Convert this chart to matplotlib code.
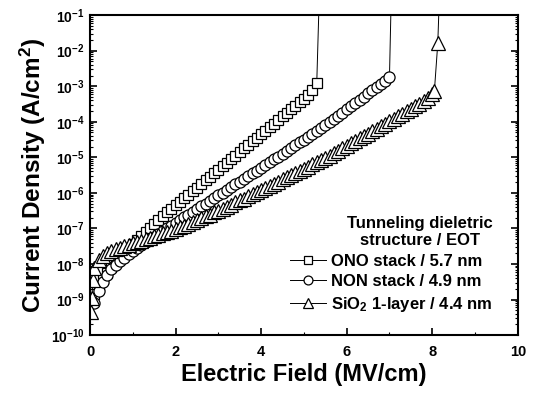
import numpy as np
import matplotlib
matplotlib.use('Agg')
import matplotlib.pyplot as plt
from matplotlib.ticker import LogLocator, FixedLocator, NullFormatter

plt.rcParams['font.family'] = ['Liberation Sans', 'DejaVu Sans']
plt.rcParams['font.weight'] = 'bold'
plt.rcParams['mathtext.fontset'] = 'custom'
plt.rcParams['mathtext.bf'] = 'Liberation Sans:bold'
plt.rcParams['mathtext.rm'] = 'Liberation Sans:bold'
plt.rcParams['mathtext.default'] = 'bf'

# ONO stack / 5.7 nm  (E in MV/cm, log10 J in A/cm^2)
ono_E = [0.1, 0.2, 0.3, 0.4, 0.5, 0.6, 0.7, 0.8, 0.9, 1.0,
         1.1, 1.2, 1.3, 1.4, 1.5, 1.6, 1.7, 1.8, 1.9, 2.0,
         2.1, 2.2, 2.3, 2.4, 2.5, 2.6, 2.7, 2.8, 2.9, 3.0,
         3.1, 3.2, 3.3, 3.4, 3.5, 3.6, 3.7, 3.8, 3.9, 4.0,
         4.1, 4.2, 4.3, 4.4, 4.5, 4.6, 4.7, 4.8, 4.9, 5.0,
         5.1, 5.2, 5.3, 5.37]
ono_logJ = [-8.85, -8.62, -8.42, -8.24, -8.08, -7.94, -7.81, -7.68, -7.56, -7.44,
            -7.32, -7.20, -7.09, -6.98, -6.87, -6.76, -6.66, -6.55, -6.45, -6.35,
            -6.25, -6.15, -6.05, -5.95, -5.85, -5.75, -5.65, -5.55, -5.45, -5.35,
            -5.25, -5.15, -5.05, -4.95, -4.85, -4.75, -4.65, -4.55, -4.45, -4.35,
            -4.25, -4.15, -4.05, -3.95, -3.85, -3.75, -3.65, -3.55, -3.45, -3.35,
            -3.24, -3.12, -2.92, 0.0]

# NON stack / 4.9 nm
non_E = [0.1, 0.2, 0.3, 0.4, 0.5, 0.6, 0.7, 0.8, 0.9, 1.0,
         1.1, 1.2, 1.3, 1.4, 1.5, 1.6, 1.7, 1.8, 1.9, 2.0,
         2.1, 2.2, 2.3, 2.4, 2.5, 2.6, 2.7, 2.8, 2.9, 3.0,
         3.1, 3.2, 3.3, 3.4, 3.5, 3.6, 3.7, 3.8, 3.9, 4.0,
         4.1, 4.2, 4.3, 4.4, 4.5, 4.6, 4.7, 4.8, 4.9, 5.0,
         5.1, 5.2, 5.3, 5.4, 5.5, 5.6, 5.7, 5.8, 5.9, 6.0,
         6.1, 6.2, 6.3, 6.4, 6.5, 6.6, 6.7, 6.8, 6.9, 7.0, 7.05]
non_logJ = [-9.10, -8.75, -8.50, -8.30, -8.15, -8.03, -7.92, -7.82, -7.72, -7.63,
            -7.55, -7.47, -7.39, -7.31, -7.24, -7.16, -7.08, -7.00, -6.92, -6.84,
            -6.76, -6.69, -6.61, -6.53, -6.46, -6.38, -6.30, -6.23, -6.15, -6.07,
            -6.00, -5.92, -5.84, -5.76, -5.69, -5.61, -5.53, -5.45, -5.38, -5.30,
            -5.22, -5.14, -5.06, -4.98, -4.90, -4.82, -4.74, -4.66, -4.58, -4.50,
            -4.42, -4.34, -4.26, -4.18, -4.10, -4.01, -3.92, -3.83, -3.74, -3.65,
            -3.56, -3.47, -3.38, -3.29, -3.20, -3.11, -3.02, -2.93, -2.84, -2.75, 0.0]

# SiO2 1-layer / 4.4 nm
sio_E = [0.02, 0.04, 0.07, 0.1, 0.2, 0.3, 0.4, 0.5, 0.6, 0.7, 0.8, 0.9, 1.0,
         1.1, 1.2, 1.3, 1.4, 1.5, 1.6, 1.7, 1.8, 1.9, 2.0,
         2.1, 2.2, 2.3, 2.4, 2.5, 2.6, 2.7, 2.8, 2.9, 3.0,
         3.1, 3.2, 3.3, 3.4, 3.5, 3.6, 3.7, 3.8, 3.9, 4.0,
         4.1, 4.2, 4.3, 4.4, 4.5, 4.6, 4.7, 4.8, 4.9, 5.0,
         5.1, 5.2, 5.3, 5.4, 5.5, 5.6, 5.7, 5.8, 5.9, 6.0,
         6.1, 6.2, 6.3, 6.4, 6.5, 6.6, 6.7, 6.8, 6.9, 7.0,
         7.1, 7.2, 7.3, 7.4, 7.5, 7.6, 7.7, 7.8, 7.9, 8.0,
         8.05, 8.13, 8.18]
sio_logJ = [-9.35, -8.95, -8.45, -8.10, -7.88, -7.78, -7.70, -7.64, -7.59, -7.54, -7.50, -7.46, -7.42,
            -7.38, -7.34, -7.30, -7.26, -7.22, -7.18, -7.14, -7.10, -7.06, -7.02,
            -6.97, -6.92, -6.87, -6.82, -6.77, -6.72, -6.66, -6.61, -6.55, -6.50,
            -6.44, -6.39, -6.33, -6.27, -6.21, -6.16, -6.10, -6.04, -5.98, -5.92,
            -5.86, -5.80, -5.74, -5.68, -5.62, -5.56, -5.50, -5.44, -5.38, -5.32,
            -5.26, -5.20, -5.14, -5.08, -5.01, -4.95, -4.88, -4.82, -4.75, -4.68,
            -4.61, -4.54, -4.47, -4.40, -4.33, -4.26, -4.19, -4.12, -4.05, -3.98,
            -3.91, -3.84, -3.77, -3.70, -3.63, -3.56, -3.49, -3.41, -3.33, -3.22,
            -3.14, -1.79, 0.0]

labels = ['ONO stack / 5.7 nm', 'NON stack / 4.9 nm', 'SiO$_2$ 1-layer / 4.4 nm']

fig = plt.figure(figsize=(5.36, 3.98), dpi=100)
ax = fig.add_axes([0.168, 0.158, 0.798, 0.804])

mk = dict(color='black', lw=0.7, mfc='white', mec='black', mew=0.9)
ax.plot(ono_E, 10.0 ** np.array(ono_logJ), marker='s', ms=7.8, label=labels[0], **mk)
ax.plot(non_E, 10.0 ** np.array(non_logJ), marker='o', ms=8, label=labels[1], **mk)
ax.plot(sio_E, 10.0 ** np.array(sio_logJ), marker='^', ms=9.5, label=labels[2], **mk)

ax.set_yscale('log')
ax.set_xlim(0, 10)
ax.set_ylim(1e-10, 1e-1)

ax.xaxis.set_major_locator(FixedLocator([0, 2, 4, 6, 8, 10]))
ax.xaxis.set_minor_locator(FixedLocator([1, 3, 5, 7, 9]))
ax.yaxis.set_major_locator(LogLocator(base=10, numticks=20))
ax.yaxis.set_minor_locator(LogLocator(base=10, subs=np.arange(2, 10), numticks=20))
ax.yaxis.set_minor_formatter(NullFormatter())
ax.tick_params(which='both', direction='in', right=True, top=False)
ax.tick_params(which='major', length=5, width=1.2)
ax.tick_params(which='minor', length=2.5, width=0.8)
ax.tick_params(axis='y', labelsize=10, pad=4)
ax.tick_params(axis='x', labelsize=10.5, pad=7)
for s in ax.spines.values():
    s.set_linewidth(1.5)

ax.set_xlabel('Electric Field (MV/cm)', fontsize=17, fontweight='bold', labelpad=3)
ax.set_ylabel('Current Density (A/cm$^2$)', fontsize=17.5, fontweight='bold', labelpad=2)

leg = ax.legend(title='Tunneling dieletric\nstructure / EOT', loc='lower right',
                bbox_to_anchor=(0.965, 0.035), frameon=False, fontsize=12,
                handlelength=2.2, handletextpad=0.3, labelspacing=0.34,
                markerscale=0.8, borderaxespad=0.2,
                title_fontproperties={'weight': 'bold', 'size': 12})
leg.get_title().set_multialignment('center')
leg._legend_box.align = 'right'

fig.savefig('out.png', dpi=100)
